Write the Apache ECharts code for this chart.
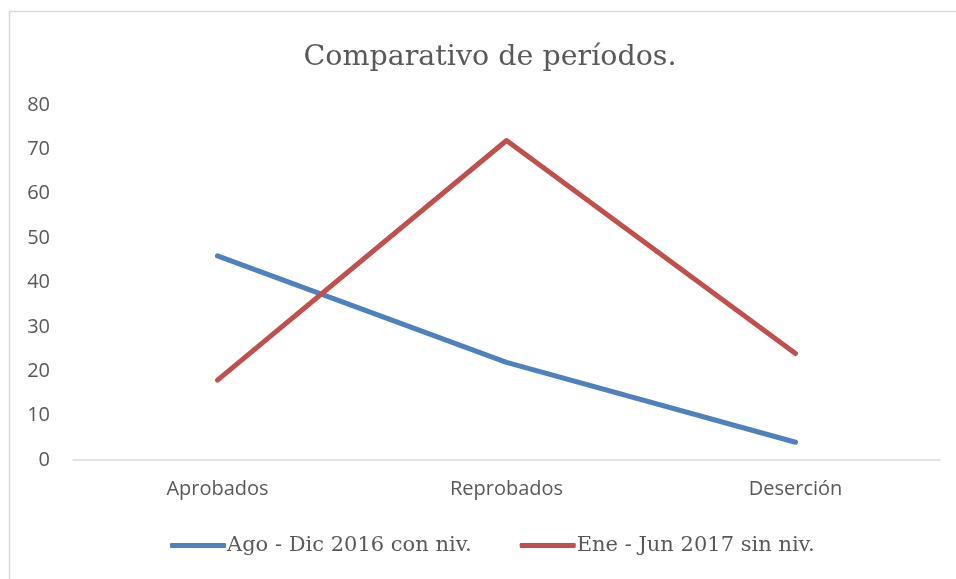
<!DOCTYPE html>
<html><head><meta charset="utf-8">
<script src="https://cdn.jsdelivr.net/npm/echarts@6/dist/echarts.min.js"></script>
<style>html,body{margin:0;padding:0;background:#fff}#c{width:956px;height:579px}</style>
</head><body><div id="c"></div>
<script>
const categories = ['Aprobados', 'Reprobados', 'Deserción'];
const seriesNames = ['Ago - Dic 2016 con niv.', 'Ene - Jun 2017 sin niv.'];
const agoDic2016 = [46, 22, 4];
const eneJun2017 = [18, 72, 24];
const titleText = 'Comparativo de períodos.';

const chart = echarts.init(document.getElementById('c'));
const serif = '"Palatino Linotype", "Book Antiqua", Palatino, "DejaVu Serif", serif';
chart.setOption({
  animation: false,
  graphic: [{
    type: 'rect', shape: {x: 9.5, y: 11.5, width: 1000, height: 700},
    style: {fill: 'none', stroke: '#d9d9d9', lineWidth: 1.5}, silent: true
  }],
  title: {
    text: titleText, left: 485, top: 38, textAlign: 'center',
    textStyle: {fontFamily: serif, fontSize: 28.5, fontWeight: 'normal', color: '#595959'}
  },
  legend: {
    data: seriesNames, bottom: 18, left: 165, itemWidth: 56, itemHeight: 5, itemGap: 48,
    icon: 'roundRect',
    textStyle: {fontFamily: serif, fontSize: 21, color: '#595959', padding: [0, 0, 0, -4]}
  },
  grid: {left: 73, right: 16, top: 105, bottom: 119, containLabel: false},
  xAxis: {
    type: 'category', data: categories, boundaryGap: true,
    axisLine: {lineStyle: {color: '#d9d9d9', width: 1.5}},
    axisTick: {show: false},
    axisLabel: {fontFamily: '"Open Sans", sans-serif', fontSize: 20, color: '#595959', margin: 19}
  },
  yAxis: {
    type: 'value', min: 0, max: 80, interval: 10,
    axisLine: {show: false}, axisTick: {show: false}, splitLine: {show: false},
    axisLabel: {fontFamily: '"Open Sans", sans-serif', fontSize: 20, color: '#595959', margin: 23}
  },
  series: [
    {name: seriesNames[0], type: 'line', data: agoDic2016, symbol: 'none',
     lineStyle: {color: '#4f81bd', width: 5, cap: 'round', join: 'round'}, itemStyle: {color: '#4f81bd'}},
    {name: seriesNames[1], type: 'line', data: eneJun2017, symbol: 'none',
     lineStyle: {color: '#c0504d', width: 5, cap: 'round', join: 'round'}, itemStyle: {color: '#c0504d'}}
  ]
});
</script></body></html>
